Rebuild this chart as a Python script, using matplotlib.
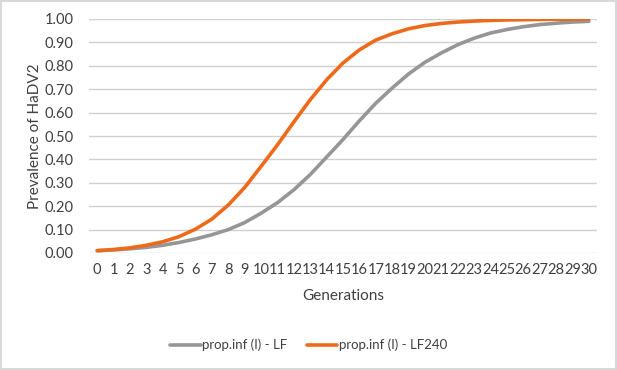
import numpy as np
import matplotlib.pyplot as plt
from matplotlib.patches import Rectangle

plt.rcParams['font.family'] = ['Lato', 'DejaVu Sans']

generations = list(range(31))
prop_lf = [0.010, 0.013, 0.018, 0.024, 0.033, 0.045, 0.060, 0.078, 0.100, 0.130,
           0.170, 0.215, 0.270, 0.335, 0.410, 0.485, 0.565, 0.640, 0.705, 0.765,
           0.815, 0.855, 0.890, 0.918, 0.940, 0.955, 0.967, 0.976, 0.982, 0.987,
           0.990]
prop_lf240 = [0.010, 0.015, 0.022, 0.033, 0.048, 0.070, 0.102, 0.145, 0.205, 0.280,
              0.370, 0.462, 0.560, 0.655, 0.740, 0.812, 0.868, 0.910, 0.937, 0.958,
              0.972, 0.981, 0.987, 0.991, 0.994, 0.996, 0.997, 0.998, 0.999, 0.999,
              1.000]

fig = plt.figure(figsize=(6.17, 3.70), dpi=100)
ax = fig.add_axes([89 / 617, 1 - 253 / 370, 508 / 617, 234 / 370])

ax.plot(generations, prop_lf, color='#969696', lw=2.6, label='prop.inf (I) - LF',
        solid_capstyle='round')
ax.plot(generations, prop_lf240, color='#ED6A1B', lw=2.6, label='prop.inf (I) - LF240',
        solid_capstyle='round')

ax.set_xlim(-0.5, 30.5)
ax.set_ylim(0, 1.0)
ax.set_yticks(np.arange(0, 1.01, 0.1))
ax.set_yticklabels([f"{v:.2f}" for v in np.arange(0, 1.01, 0.1)])
ax.set_xticks(generations)
ax.set_xticklabels([str(g) for g in generations])
ax.tick_params(length=0, labelsize=10.5, colors='#404040', pad=7)
ax.tick_params(axis='y', pad=11)
ax.grid(axis='y', color='#D0D0D0', lw=1)
ax.set_axisbelow(True)
for s in ax.spines.values():
    s.set_visible(False)

ax.set_ylabel('Prevalence of HaDV2', fontsize=11, color='#404040', labelpad=2)
ax.set_xlabel('Generations', fontsize=11, color='#404040', labelpad=9)

fig.legend(loc='center', bbox_to_anchor=(0.5, 1 - 345 / 370), ncol=2, frameon=False,
           fontsize=9.5, handlelength=2.3, handletextpad=0.1, columnspacing=1.5,
           labelcolor='#404040')

fig.patches.append(Rectangle((0.002, 0.003), 0.996, 0.994, transform=fig.transFigure,
                             fill=False, edgecolor='#D9D9D9', lw=1.5))

fig.savefig('out.png', dpi=100)
